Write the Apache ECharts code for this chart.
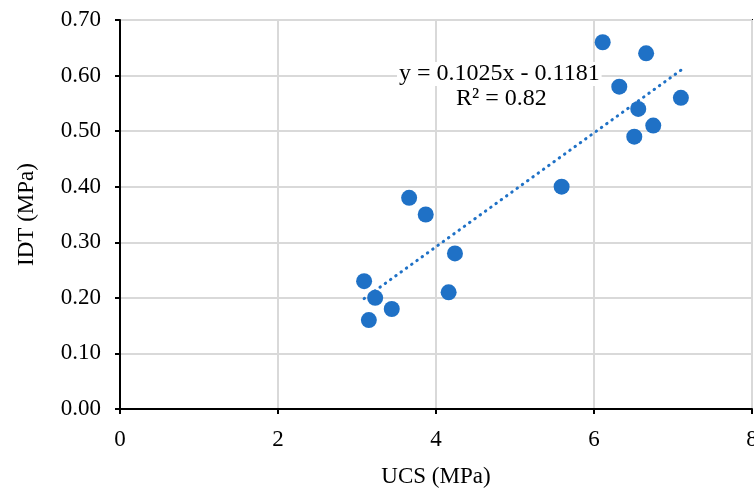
<!DOCTYPE html>
<html>
<head>
<meta charset="utf-8">
<script src="https://cdn.jsdelivr.net/npm/echarts@6/dist/echarts.min.js"></script>
<style>
  html, body { margin: 0; padding: 0; background: #fff; }
  #chart { width: 754px; height: 488px; }
</style>
</head>
<body>
<div id="chart"></div>
<script>
// UCS vs IDT 数据
const ucs = [6.11, 6.66, 6.32, 6.56, 7.10, 6.75, 6.51, 5.59, 3.66, 3.87, 4.24, 4.16, 3.09, 3.23, 3.44, 3.15];
const idt = [0.66, 0.64, 0.58, 0.54, 0.56, 0.51, 0.49, 0.40, 0.38, 0.35, 0.28, 0.21, 0.23, 0.20, 0.18, 0.16];
const xTicks = [0, 2, 4, 6, 8];
const yTicks = [0, 0.1, 0.2, 0.3, 0.4, 0.5, 0.6, 0.7];
// 趋势线
const slope = 0.1025;
const intercept = -0.1181;
const r2 = 0.82;

const blue = "#1f71c6";
const font = "'Liberation Serif', 'Times New Roman', serif";

const points = ucs.map((x, i) => [x, idt[i]]);
const xMin = Math.min(...ucs);
const xMax = Math.max(...ucs);
const trend = [xMin, xMax].map((x) => [x, slope * x + intercept]);

const myChart = echarts.init(document.getElementById("chart"));

myChart.setOption({
  animation: false,
  grid: {
    left: 120,
    right: 2,
    top: 20,
    bottom: 79,
    outerBoundsMode: "none",
    containLabel: false,
    show: true,
    borderColor: "#000",
    borderWidth: 2,
  },
  xAxis: {
    type: "value",
    min: xTicks[0],
    max: xTicks[xTicks.length - 1],
    interval: 2,
    name: "UCS (MPa)",
    nameLocation: "middle",
    nameGap: 56,
    nameTextStyle: { fontFamily: font, fontSize: 23, color: "#000" },
    axisLine: { lineStyle: { color: "#000", width: 2 } },
    axisTick: { show: true, length: 5, lineStyle: { color: "#000", width: 2 } },
    axisLabel: { fontFamily: font, fontSize: 23, color: "#000", margin: 19 },
    splitLine: { lineStyle: { color: "#d9d9d9", width: 2 } },
  },
  yAxis: {
    type: "value",
    min: yTicks[0],
    max: yTicks[yTicks.length - 1],
    interval: 0.1,
    name: "IDT (MPa)",
    nameLocation: "middle",
    nameGap: 82,
    nameRotate: 90,
    nameTextStyle: { fontFamily: font, fontSize: 23, color: "#000" },
    axisLine: { show: true, lineStyle: { color: "#000", width: 2 } },
    axisTick: { show: true, length: 5, lineStyle: { color: "#000", width: 2 } },
    axisLabel: {
      fontFamily: font,
      fontSize: 23,
      color: "#000",
      margin: 19,
      formatter: (v) => v.toFixed(2),
    },
    splitLine: { lineStyle: { color: "#d9d9d9", width: 2 } },
  },
  series: [
    {
      type: "line",
      data: trend,
      symbol: "none",
      z: 3,
      lineStyle: { color: blue, width: 3, type: [0.5, 6], cap: "round" },
    },
    {
      type: "scatter",
      data: points,
      symbolSize: 16,
      z: 4,
      itemStyle: { color: blue, opacity: 1 },
    },
  ],
  graphic: [
    {
      type: "text",
      left: 397,
      top: 62,
      z: 100,
      style: {
        text: `y = ${slope}x - ${Math.abs(intercept)}`,
        font: `24px ${font}`,
        fill: "#000",
        backgroundColor: "#fff",
        padding: [0, 2],
      },
    },
    {
      type: "text",
      left: 454,
      top: 87,
      z: 100,
      style: {
        text: `R² = ${r2}`,
        font: `24px ${font}`,
        fill: "#000",
        backgroundColor: "#fff",
        padding: [0, 2],
      },
    },
  ],
});
</script>
</body>
</html>
